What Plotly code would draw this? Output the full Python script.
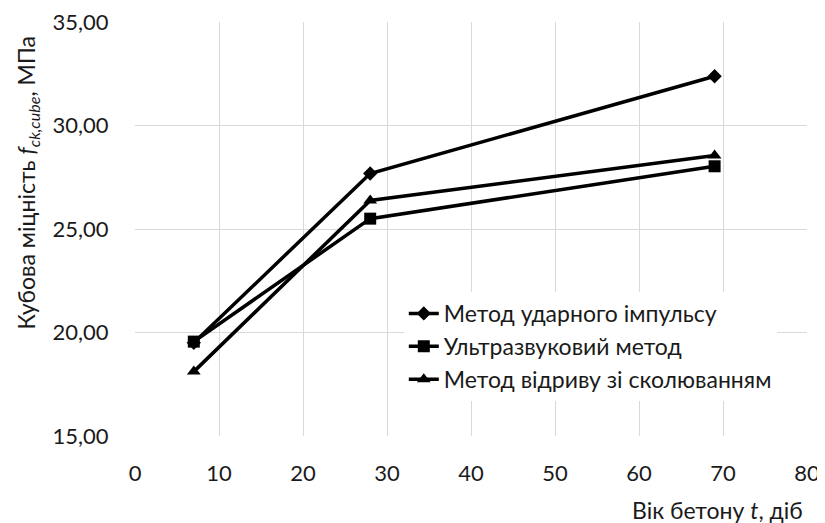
import plotly.graph_objects as go

ages = [7, 28, 69]
impulse = [19.50, 27.68, 32.38]
ultrasonic = [19.56, 25.50, 28.03]
pulloff = [18.11, 26.38, 28.55]
names = ["Метод ударного імпульсу", "Ультразвуковий метод", "Метод відриву зі сколюванням"]
symbols = ["diamond", "square", "triangle-up"]
sizes = [11, 12, 12]

FONT = "Lato, Open Sans, sans-serif"
TXT = "#1a1a1a"
fig = go.Figure()
for ys, nm, sym, sz in zip([impulse, ultrasonic, pulloff], names, symbols, sizes):
    fig.add_trace(go.Scatter(x=ages, y=ys, name=nm, mode="lines+markers",
                             line=dict(color="black", width=3.5),
                             marker=dict(symbol=sym, size=sz, color="black")))

fig.update_layout(
    width=817, height=515,
    margin=dict(l=127, r=18, t=14, b=87, autoexpand=False),
    paper_bgcolor="white", plot_bgcolor="white",
    separators=", ",
    font=dict(family=FONT, size=22, color=TXT),
    showlegend=True,
    legend=dict(x=0.40, y=0.348, xanchor="left", yanchor="top",
                bgcolor="white", font=dict(size=23, color=TXT),
                tracegroupgap=0, itemsizing="trace"),
    xaxis=dict(range=[0, 80], dtick=10, showgrid=True, gridcolor="#d9d9d9",
               gridwidth=1, zeroline=False, showline=False, automargin=False,
               ticks="outside", ticklen=18, tickcolor="rgba(0,0,0,0)",
               ticklabeloverflow="allow",
               tickfont=dict(size=22, color=TXT)),
    yaxis=dict(range=[15, 35], dtick=5, tickformat=".2f", showgrid=True,
               gridcolor="#d9d9d9", gridwidth=1, zeroline=False, showline=False,
               automargin=False,
               ticks="outside", ticklen=21, tickcolor="rgba(0,0,0,0)",
               ticklabeloverflow="allow",
               tickfont=dict(size=22, color=TXT)),
)
fig.add_annotation(text="Кубова міцність <i>f</i><sub><i>ck,cube</i></sub>, МПа",
                   xref="paper", yref="paper", x=-0.16, y=0.611,
                   xanchor="center", yanchor="middle", textangle=-90, showarrow=False,
                   font=dict(size=23, color=TXT))
fig.add_annotation(text="Вік бетону <i>t</i>, діб", xref="paper", yref="paper",
                   x=0.997, y=-0.179, xanchor="right", yanchor="middle", showarrow=False,
                   font=dict(size=23, color=TXT))
fig.write_html("out.html")
